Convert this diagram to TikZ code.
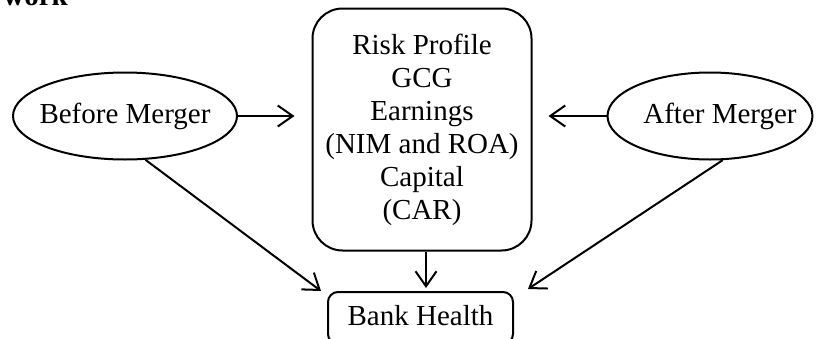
\documentclass[tikz,border=0pt]{standalone}
\usepackage{fontspec}
\setmainfont{Liberation Serif}
\usetikzlibrary{arrows.meta,shapes.geometric,calc}
\begin{document}
\begin{tikzpicture}[x=1pt,y=-1pt,
  line width=2pt,
  every node/.style={font=\fontsize{29}{33}\selectfont},
  arr/.style={-{Straight Barb[length=15pt,width=21pt,line width=2pt]}},
  oval/.style={draw,ellipse,inner sep=0pt,minimum height=87pt},
]
\useasboundingbox (0,0) rectangle (817,338);
\node[anchor=base west,font=\fontsize{29}{33}\selectfont\bfseries] (title) at (-1,5) {work};
\node[oval,minimum width=224pt] (bm) at (125,116) {\makebox[0pt]{Before Merger}};
\node[oval,minimum width=205pt] (am) at (710,116) {\makebox[0pt]{\hspace{20pt}After Merger}};
\node[draw,rounded corners=30pt,minimum width=219pt,minimum height=242pt,align=center,inner sep=0pt] (cb) at (422,129.5)
  {Risk Profile\\GCG\\Earnings\\(NIM and ROA)\\Capital\\(CAR)};
\node[draw,rounded corners=10pt,minimum width=185pt,minimum height=52pt,inner sep=0pt,text depth=6pt] (bh) at (420.5,318) {Bank Health};
\draw[arr] (bm.east) -- ($(bm.east -| cb.west)+(-17,0)$);
\draw[arr] (am.west) -- ($(am.west -| cb.east)+(16,0)$);
\draw[arr] ($(cb.south)+(4,0)$) -- ($(bh.north)+(5.5,-3)$);
\draw[arr] (bm.-65) -- ($(bh.north west)+(-6,0)$);
\draw[arr] (am.-74) -- ($(bh.north east)+(14,-2)$);
\end{tikzpicture}
\end{document}
